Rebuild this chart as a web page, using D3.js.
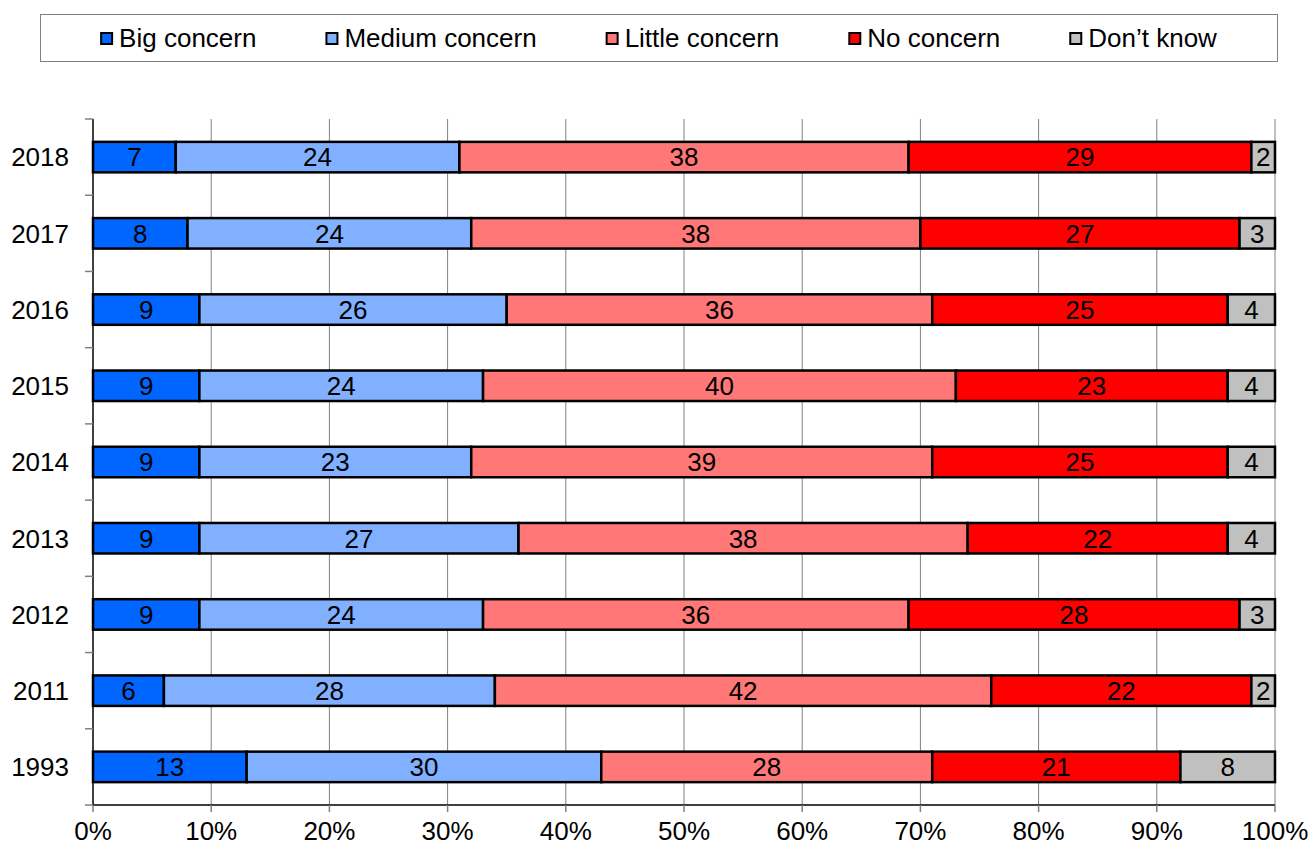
<!DOCTYPE html>
<html><head><meta charset="utf-8">
<script src="https://cdn.jsdelivr.net/npm/d3@7"></script>
<style>body{margin:0;background:#fff}svg{display:block;font-family:"Liberation Sans",Arial,sans-serif}</style>
</head><body><svg id="c" width="1309" height="847"></svg>
<script>
const years = ["2018","2017","2016","2015","2014","2013","2012","2011","1993"];
const seriesNames = ["Big concern","Medium concern","Little concern","No concern","Don\u2019t know"];
const colors = ["#0066FF","#80B0FF","#FF7777","#FF0000","#C0C0C0"];
const bigConcern    = [7,8,9,9,9,9,9,6,13];
const mediumConcern = [24,24,26,24,23,27,24,28,30];
const littleConcern = [38,38,36,40,39,38,36,42,28];
const noConcern     = [29,27,25,23,25,22,28,22,21];
const dontKnow      = [2,3,4,4,4,4,3,2,8];
const xTicks = [0,10,20,30,40,50,60,70,80,90,100];

const FS = 26;
const svg = d3.select("#c");
const m = {left:93, right:1275, top:119, bottom:805};
const x = d3.scaleLinear().domain([0,100]).range([m.left,m.right]);
const y = d3.scaleBand().domain(years).range([m.top,m.bottom]).paddingInner(0.6).paddingOuter(0.3);
const yb = d3.scaleBand().domain(years).range([m.top,m.bottom]);

const table = years.map((yr,i)=>({year:yr, v:[bigConcern[i],mediumConcern[i],littleConcern[i],noConcern[i],dontKnow[i]]}));

// gridlines
svg.append("g").selectAll("line").data(xTicks.slice(1)).join("line")
  .attr("x1",d=>x(d)).attr("x2",d=>x(d)).attr("y1",m.top).attr("y2",m.bottom)
  .attr("stroke","#808080").attr("stroke-width",1);

// bars
const rows = svg.append("g").selectAll("g").data(table).join("g");
rows.each(function(d){
  let acc=0;
  const g=d3.select(this);
  d.v.forEach((val,k)=>{
    const x0=acc; acc+=val;
    g.append("rect").attr("x",x(x0)).attr("y",y(d.year)).attr("width",x(acc)-x(x0)).attr("height",y.bandwidth())
      .attr("fill",colors[k]).attr("stroke","#000").attr("stroke-width",2.5);
  });
  acc=0;
  d.v.forEach((val,k)=>{
    const x0=acc; acc+=val;
    g.append("text").attr("x",(x(x0)+x(acc))/2).attr("y",y(d.year)+y.bandwidth()/2).attr("dy","0.36em")
      .attr("text-anchor","middle").attr("font-size",FS).attr("fill","#000").text(val);
  });
});

// y axis
svg.append("line").attr("x1",m.left).attr("x2",m.left).attr("y1",m.top).attr("y2",m.bottom).attr("stroke","#000").attr("stroke-width",1.5);
const yTickPos = years.map(d=>yb(d)).concat([m.bottom]);
svg.append("g").selectAll("line").data(yTickPos).join("line")
  .attr("x1",m.left-8).attr("x2",m.left).attr("y1",d=>d).attr("y2",d=>d).attr("stroke","#808080").attr("stroke-width",1.5);
svg.append("g").selectAll("text").data(years).join("text")
  .attr("x",69).attr("y",d=>yb(d)+yb.bandwidth()/2).attr("dy","0.36em").attr("text-anchor","end")
  .attr("font-size",FS).text(d=>d);

// x axis
svg.append("line").attr("x1",m.left).attr("x2",m.right).attr("y1",m.bottom).attr("y2",m.bottom).attr("stroke","#000").attr("stroke-width",1.5);
svg.append("g").selectAll("line").data(xTicks).join("line")
  .attr("x1",d=>x(d)).attr("x2",d=>x(d)).attr("y1",m.bottom).attr("y2",m.bottom+7).attr("stroke","#808080").attr("stroke-width",1.5);
svg.append("g").selectAll("text").data(xTicks).join("text")
  .attr("x",d=>x(d)).attr("y",840).attr("text-anchor","middle").attr("font-size",FS).text(d=>d+"%");

// legend
svg.append("rect").attr("x",40.5).attr("y",14.5).attr("width",1237).attr("height",47).attr("fill","#fff").attr("stroke","#808080").attr("stroke-width",1);
const lg = svg.append("g");
let lx=0;
const GAP=69;
seriesNames.forEach((n,k)=>{
  const it=lg.append("g").attr("transform",`translate(${lx},0)`);
  it.append("rect").attr("x",1).attr("y",-5).attr("width",11).attr("height",11).attr("fill",colors[k]).attr("stroke","#000").attr("stroke-width",2);
  const t=it.append("text").attr("x",19).attr("y",0).attr("dy","0.36em").attr("font-size",FS).text(n);
  const w=t.node().getComputedTextLength();
  lx+=19+w+GAP;
});
const total=lx-GAP;
lg.attr("transform",`translate(${(40+1277)/2-total/2},38)`);
</script></body></html>
